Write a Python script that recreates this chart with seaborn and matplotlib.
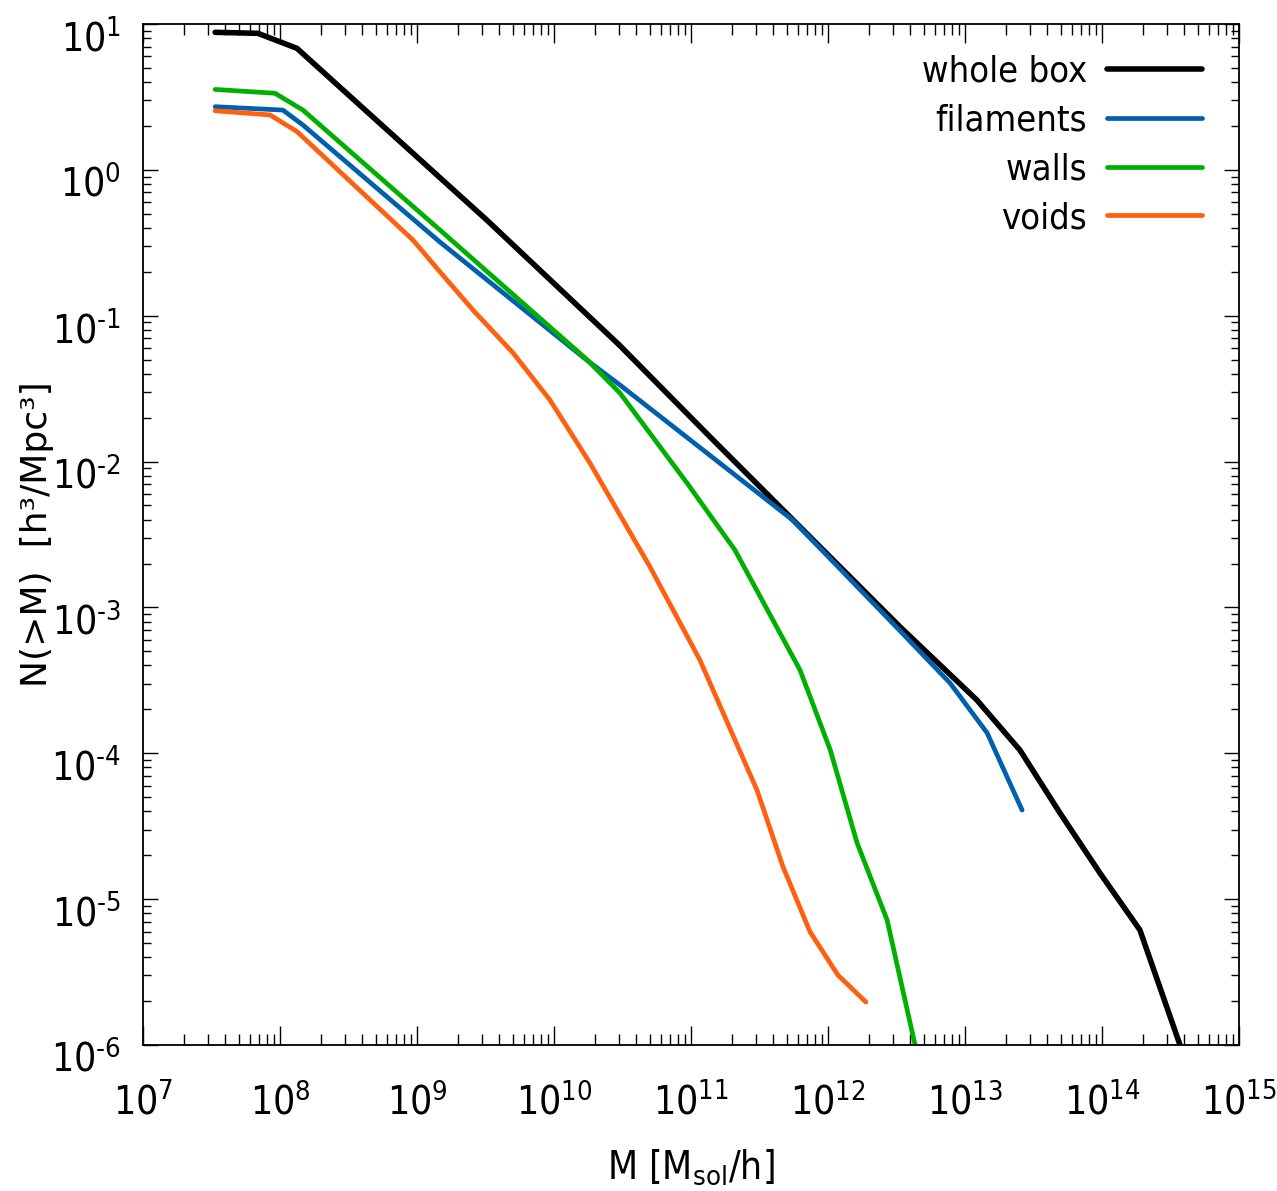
import numpy as np
import pandas as pd
import seaborn as sns
import matplotlib
matplotlib.use("Agg")
import matplotlib.pyplot as plt
import matplotlib.transforms as mtransforms
from matplotlib import font_manager
from matplotlib.ticker import FixedLocator, FuncFormatter, NullFormatter

# Cumulative halo mass functions by cosmic-web environment
mass_box = [3.36e7, 6.9e7, 1.33e8, 3.23e9, 3.0e10, 1.45e11, 9.2e11, 3.36e12,
            1.22e13, 2.52e13, 4.93e13, 9.66e13, 1.89e14, 3.71e14]
n_box = [8.77, 8.63, 6.81, 0.453, 0.0629, 0.01406, 2.48e-3, 7.35e-4,
         2.32e-4, 1.05e-4, 3.9e-5, 1.51e-5, 6.15e-6, 1.0e-6]

mass_fil = [3.36e7, 1.05e8, 1.47e8, 1.47e9, 1.74e10, 3.03e10, 5.56e11, 3.36e12,
            7.78e12, 1.45e13, 2.61e13]
n_fil = [2.71, 2.57, 2.03, 0.320, 0.0495, 0.0335, 3.95e-3, 6.9e-4,
         3.03e-4, 1.38e-4, 4.08e-5]

mass_wall = [3.36e7, 9.2e7, 1.47e8, 1.47e9, 1.74e10, 3.03e10, 9.35e10, 2.09e11,
             6.25e11, 1.04e12, 1.63e12, 2.7e12, 4.32e12]
n_wall = [3.56, 3.35, 2.57, 0.387, 0.0500, 0.0295, 7.13e-3, 2.48e-3,
          3.72e-4, 1.05e-4, 2.43e-5, 7.2e-6, 1.0e-6]

mass_void = [3.36e7, 8.45e7, 1.33e8, 9.35e8, 1.47e9, 2.57e9, 5.03e9, 9.35e9,
             1.83e10, 5.03e10, 1.16e11, 3.03e11, 4.7e11, 7.4e11, 1.18e12, 1.89e12]
n_void = [2.54, 2.38, 1.83, 0.330, 0.200, 0.109, 0.0555, 0.0264,
          9.77e-3, 1.89e-3, 4.37e-4, 5.6e-5, 1.66e-5, 5.96e-6, 3.02e-6, 1.97e-6]

labels = ["whole box", "filaments", "walls", "voids"]
colors = ["#000000", "#0060ad", "#00b000", "#ff6010"]
widths = [4.0, 3.4, 3.4, 3.4]

# decade exponents shown on each axis
x_powers = [7, 8, 9, 10, 11, 12, 13, 14, 15]
y_powers = [-6, -5, -4, -3, -2, -1, 0, 1]

frames = []
for lab, m, n in zip(labels, [mass_box, mass_fil, mass_wall, mass_void],
                     [n_box, n_fil, n_wall, n_void]):
    frames.append(pd.DataFrame({"M": m, "N": n, "region": lab}))
df = pd.concat(frames, ignore_index=True)

sns.set_theme(style="ticks")

# Prefer a narrow sans face for the numbers and key, as gnuplot's output uses
narrow_family, narrow_stretch = "Liberation Sans", "normal"
for entry in font_manager.fontManager.ttflist:
    nm = entry.name
    st = str(entry.stretch).lower()
    if entry.style != "normal" or str(entry.weight) not in ("400", "normal"):
        continue
    if "Narrow" in nm or "Condensed" in nm:
        narrow_family, narrow_stretch = nm, "normal"
        break
    if "condensed" in st and nm in ("DejaVu Sans", "Noto Sans", "Open Sans", "Roboto"):
        narrow_family, narrow_stretch = nm, st
        break
found_narrow = narrow_family != "Liberation Sans"
tick_size = 28 if found_narrow else 24

plt.rcParams["font.family"] = [narrow_family, "DejaVu Sans"]
plt.rcParams["font.stretch"] = narrow_stretch
plt.rcParams["axes.unicode_minus"] = False
plt.rcParams["text.color"] = "black"
plt.rcParams["axes.labelcolor"] = "black"
plt.rcParams["mathtext.fontset"] = "custom"
spec = narrow_family if narrow_stretch == "normal" else f"{narrow_family}:stretch={narrow_stretch}"
plt.rcParams["mathtext.rm"] = spec
plt.rcParams["mathtext.it"] = spec
plt.rcParams["mathtext.bf"] = spec


def decade_label(value, pos):
    """Label a decade as 10^n, with a plain hyphen for negative powers."""
    n = int(round(np.log10(value)))
    if n < 0:
        return r"$10^{\text{-%d}}$" % (-n)
    return r"$10^{%d}$" % n


def minor_positions(powers):
    return [k * 10.0 ** p for p in powers[:-1] for k in range(2, 10)]


fig = plt.figure(figsize=(12.77, 11.91), dpi=100)
ax = fig.add_axes([143 / 1277, 1 - 1045 / 1191, 1096 / 1277, 1021 / 1191])

sns.lineplot(data=df, x="M", y="N", hue="region", hue_order=labels,
             palette=colors, sort=False, estimator=None, linewidth=3.4,
             ax=ax, legend=True)
for line, lw in zip(ax.get_lines(), widths):
    line.set_linewidth(lw)

ax.set_xscale("log")
ax.set_yscale("log")
ax.set_xlim(10.0 ** x_powers[0], 10.0 ** x_powers[-1])
ax.set_ylim(10.0 ** y_powers[0], 10.0 ** y_powers[-1])

ax.xaxis.set_major_locator(FixedLocator([10.0 ** p for p in x_powers]))
ax.yaxis.set_major_locator(FixedLocator([10.0 ** p for p in y_powers]))
ax.xaxis.set_minor_locator(FixedLocator(minor_positions(x_powers)))
ax.yaxis.set_minor_locator(FixedLocator(minor_positions(y_powers)))
ax.xaxis.set_major_formatter(FuncFormatter(decade_label))
ax.yaxis.set_major_formatter(FuncFormatter(decade_label))
ax.xaxis.set_minor_formatter(NullFormatter())
ax.yaxis.set_minor_formatter(NullFormatter())

for side in ax.spines.values():
    side.set_linewidth(1.3)
    side.set_color("black")

ax.tick_params(axis="both", which="both", direction="in", top=True, right=True,
               colors="black", width=1.0, labelsize=tick_size)
ax.tick_params(axis="x", which="major", length=14, pad=27)
ax.tick_params(axis="x", which="minor", length=8)
ax.tick_params(axis="y", which="major", length=11, pad=16)
ax.tick_params(axis="y", which="minor", length=6)

# y tick labels sit a little below their ticks
shift_down = mtransforms.ScaledTranslation(0, -8 / 72, fig.dpi_scale_trans)
for lbl in ax.get_yticklabels():
    lbl.set_transform(lbl.get_transform() + shift_down)

ax.set_xlabel(r"M [M$_{\rm sol}$/h]", fontsize=tick_size, color="black")
ax.set_ylabel("N(>M)  [h³/Mpc³]", fontsize=26, family="DejaVu Sans",
              fontstretch="normal", color="black")
ax.xaxis.set_label_coords(0.5, -0.10)
ax.yaxis.set_label_coords(-0.081, 0.5)

handles, hl = ax.get_legend_handles_labels()
leg = ax.legend(handles, hl, loc="upper right", bbox_to_anchor=(0.966, 0.970),
                markerfirst=False, frameon=False, fontsize=26,
                handlelength=2.63, handletextpad=0.55, labelspacing=0.41,
                borderaxespad=0, borderpad=0, labelcolor="black")
for line, lw in zip(leg.get_lines(), widths):
    line.set_linewidth(lw)

fig.savefig("out.png", dpi=100)
